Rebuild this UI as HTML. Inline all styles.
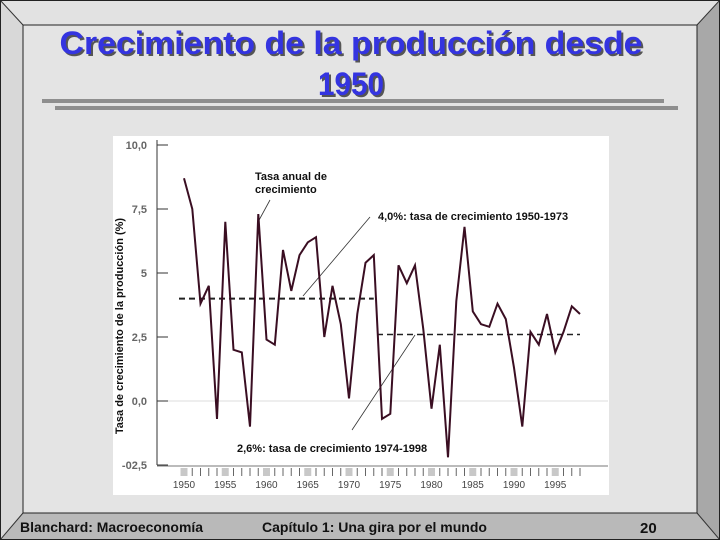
<!DOCTYPE html>
<html><head><meta charset="utf-8"><style>
html,body{margin:0;padding:0;background:#ddd}
svg{display:block}
text{font-family:"Liberation Sans",sans-serif}
</style></head><body>
<svg width="720" height="540" viewBox="0 0 720 540">
  <rect x="0" y="0" width="720" height="540" fill="#e2e2e2"/>
  <polygon points="697,25 720,0 720,540 697,513" fill="#a8a8a8"/>
  <polygon points="23,513 697,513 720,540 0,540" fill="#b9b9b9"/>
  <polygon points="0,0 23,25 23,513 0,540" fill="#d8d8d8"/>
  <line x1="0" y1="0" x2="23" y2="25" stroke="#333" stroke-width="1"/>
  <line x1="720" y1="0" x2="697" y2="25" stroke="#333" stroke-width="1"/>
  <line x1="0" y1="540" x2="23" y2="513" stroke="#333" stroke-width="1"/>
  <line x1="720" y1="540" x2="697" y2="513" stroke="#333" stroke-width="1"/>
  <rect x="23" y="25" width="674" height="488" fill="#e4e4e4" stroke="#222" stroke-width="1"/>
  <rect x="0.5" y="0.5" width="719" height="539" fill="none" stroke="#222" stroke-width="1"/>

  <g>
    <text x="353" y="56" text-anchor="middle" font-size="32" font-weight="bold" fill="#555" textLength="583" lengthAdjust="spacingAndGlyphs">Crecimiento de la producción desde</text>
    <text x="351" y="54" text-anchor="middle" font-size="32" font-weight="bold" fill="#3434e0" textLength="583" lengthAdjust="spacingAndGlyphs">Crecimiento de la producción desde</text>
    <text x="353" y="97" text-anchor="middle" font-size="32" font-weight="bold" fill="#555" textLength="66" lengthAdjust="spacingAndGlyphs">1950</text>
    <text x="351" y="95" text-anchor="middle" font-size="32" font-weight="bold" fill="#3434e0" textLength="66" lengthAdjust="spacingAndGlyphs">1950</text>
  </g>
  <rect x="42" y="99" width="622" height="4" fill="#8e8e8e"/>
  <rect x="55" y="106" width="623" height="4" fill="#8e8e8e"/>

  <rect x="113" y="136" width="496" height="359" fill="#ffffff"/>
  <g id="chart"></g>

  <text transform="translate(123,326) rotate(-90)" text-anchor="middle" font-size="11" font-weight="bold" fill="#111">Tasa de crecimiento de la producción (%)</text>

  <text x="255" y="180" font-size="11" font-weight="bold" fill="#111">Tasa anual de</text>
  <text x="255" y="193" font-size="11" font-weight="bold" fill="#111">crecimiento</text>
  <text x="378" y="220" font-size="11" font-weight="bold" fill="#111">4,0%: tasa de crecimiento 1950-1973</text>
  <text x="237" y="452" font-size="11" font-weight="bold" fill="#111">2,6%: tasa de crecimiento 1974-1998</text>

  <text x="20" y="532" font-size="14" font-weight="bold" fill="#111" textLength="183" lengthAdjust="spacingAndGlyphs">Blanchard: Macroeconomía</text>
  <text x="262" y="532" font-size="14" font-weight="bold" fill="#111" textLength="225" lengthAdjust="spacingAndGlyphs">Capítulo 1: Una gira por el mundo</text>
  <text x="640" y="533" font-size="15" font-weight="bold" fill="#111">20</text>
</svg>
<script>
const years = [1950,1951,1952,1953,1954,1955,1956,1957,1958,1959,1960,1961,1962,1963,1964,1965,1966,1967,1968,1969,1970,1971,1972,1973,1974,1975,1976,1977,1978,1979,1980,1981,1982,1983,1984,1985,1986,1987,1988,1989,1990,1991,1992,1993,1994,1995,1996,1997,1998];
const growth = [8.7,7.5,3.8,4.5,-0.7,7.0,2.0,1.9,-1.0,7.3,2.4,2.2,5.9,4.3,5.7,6.2,6.4,2.5,4.5,3.0,0.1,3.4,5.4,5.7,-0.7,-0.5,5.3,4.6,5.3,2.8,-0.3,2.2,-2.2,3.9,6.8,3.5,3.0,2.9,3.8,3.2,1.3,-1.0,2.7,2.2,3.4,1.9,2.7,3.7,3.4];
const yTicks = [10,7.5,5,2.5,0,-2.5];
const yTickLabels = ["10,0","7,5","5","2,5","0,0","-02,5"];
const xLabelYears = [1950,1955,1960,1965,1970,1975,1980,1985,1990,1995];
const avgPeriods = [[1950,1973],[1974,1998]];
const avgValues = [4.0,2.6];

const NS="http://www.w3.org/2000/svg";
const g=document.getElementById('chart');
const xS=y=>184+(y-1950)*8.25;
const yS=v=>401-v*25.6;
function mk(t,a){const e=document.createElementNS(NS,t);for(const k in a)e.setAttribute(k,a[k]);g.appendChild(e);return e;}

let e=mk('line',{x1:157,y1:yS(0),x2:608,y2:yS(0),stroke:'#ddd','stroke-width':1});


e=mk('line',{x1:157,y1:140,x2:157,y2:yS(-2.5),stroke:'#333','stroke-width':1});


e=mk('line',{x1:157,y1:yS(-2.5)+1,x2:608,y2:yS(-2.5)+1,stroke:'#777','stroke-width':1});



yTicks.forEach((v,i)=>{
  const t=mk('line',{x1:157,y1:yS(v),x2:168,y2:yS(v),stroke:'#333','stroke-width':1});
  
  
  const l=mk('text',{x:147,y:yS(v)+4,'text-anchor':'end','font-size':11,'font-weight':'bold',fill:'#666'});
  l.textContent=yTickLabels[i];
  
  
});
years.forEach(y=>{
  const five=(y%5===0);
  const r=mk('rect',{x:xS(y)-(five?3.5:0.5),y:yS(-2.5)+3,width:five?7:1,height:8,fill:five?'#c8c8c8':'#666'});
  
  
});
xLabelYears.forEach(y=>{
  const l=mk('text',{x:xS(y),y:yS(-2.5)+23,'text-anchor':'middle','font-size':10,fill:'#444'});
  l.textContent=y;
  
  
});
avgPeriods.forEach((p,i)=>{
  const a=mk('line',{x1:xS(p[0])-5,y1:yS(avgValues[i]),x2:xS(p[1]),y2:yS(avgValues[i]),stroke:'#222','stroke-width':i?1.5:2,'stroke-dasharray':'6,4'});
  
  
});
[[270,200,258,222],[370,217,303,296],[415,335,352,430]].forEach(c=>{
  const l=mk('line',{x1:c[0],y1:c[1],x2:c[2],y2:c[3],stroke:'#333','stroke-width':0.8});
  
  
});
const pts=years.map((y,i)=>xS(y).toFixed(1)+','+yS(growth[i]).toFixed(1)).join(' ');
const line=mk('polyline',{points:pts,fill:'none',stroke:'#3a0e22','stroke-width':2,'stroke-linejoin':'miter'});


</script>
</body></html>
